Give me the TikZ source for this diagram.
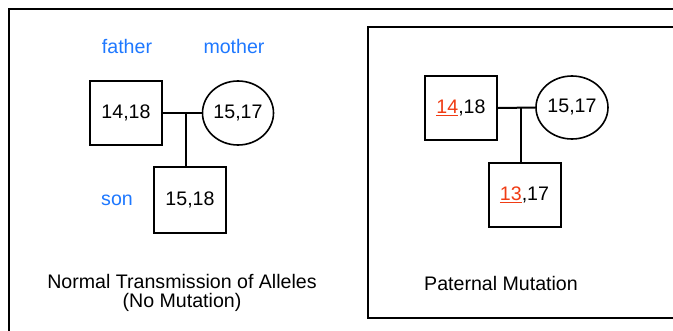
\documentclass[tikz,border=0pt]{standalone}
\usepackage{fontspec}
\setmainfont{Liberation Sans}
\usetikzlibrary{shapes.geometric}
\definecolor{labelblue}{RGB}{30,120,255}
\definecolor{mutred}{RGB}{240,60,20}
\newcommand{\mut}[1]{{\color{mutred}\underline{#1}}}
\begin{document}
\begin{tikzpicture}[x=1pt,y=-1pt,
  every node/.style={font=\fontsize{19.6}{19}\selectfont, inner sep=0pt},
  male/.style={draw, line width=2pt, rectangle, minimum width=72pt, minimum height=64pt},
  female/.style={draw, line width=1.6pt, ellipse, minimum width=71pt, minimum height=64pt},
  role/.style={text=labelblue},
  link/.style={line width=2pt},
  frame/.style={line width=2.2pt}]
  \clip (0,0) rectangle (673,330);
  \useasboundingbox (0,0) rectangle (673,330);
  \fill[white] (0,0) rectangle (673,330);

  % outer and inner frames (both run off the page to the right)
  \draw[frame] (9,9) rectangle (700,360);
  \draw[frame] (368,27) rectangle (700,318);

  % normal transmission
  \node[male]   (f1) at (126,113) {14,18};
  \node[female] (m1) at (238,113) {15,17};
  \node[male, minimum height=66pt] (s1) at (190,200) {15,18};
  \coordinate (j1) at (186,113);
  \draw[link] (f1.east) -- (m1.west);
  \draw[link] (j1) -- (j1 |- s1.north);
  \node[role] (lf) at (127,46) {father};
  \node[role] (lm) at (234,46) {mother};
  \node[role] (ls) at (117,200) {son};
  \node[align=center] (c1) at (182,293) {Normal Transmission of Alleles\\(No Mutation)};

  % paternal mutation
  \node[male]   (f2) at (461,108) {\mut{14},18};
  \node[female, minimum width=72pt, minimum height=63pt] (m2) at (572,107.5) {15,17};
  \node[male] (s2) at (524.5,195) {\mut{13},17};
  \coordinate (j2) at (521,108);
  \draw[link] (f2.east) -- (m2.west);
  \draw[link] (j2) -- (j2 |- s2.north);
  \node (c2) at (501,283) {Paternal Mutation};
\end{tikzpicture}
\end{document}
